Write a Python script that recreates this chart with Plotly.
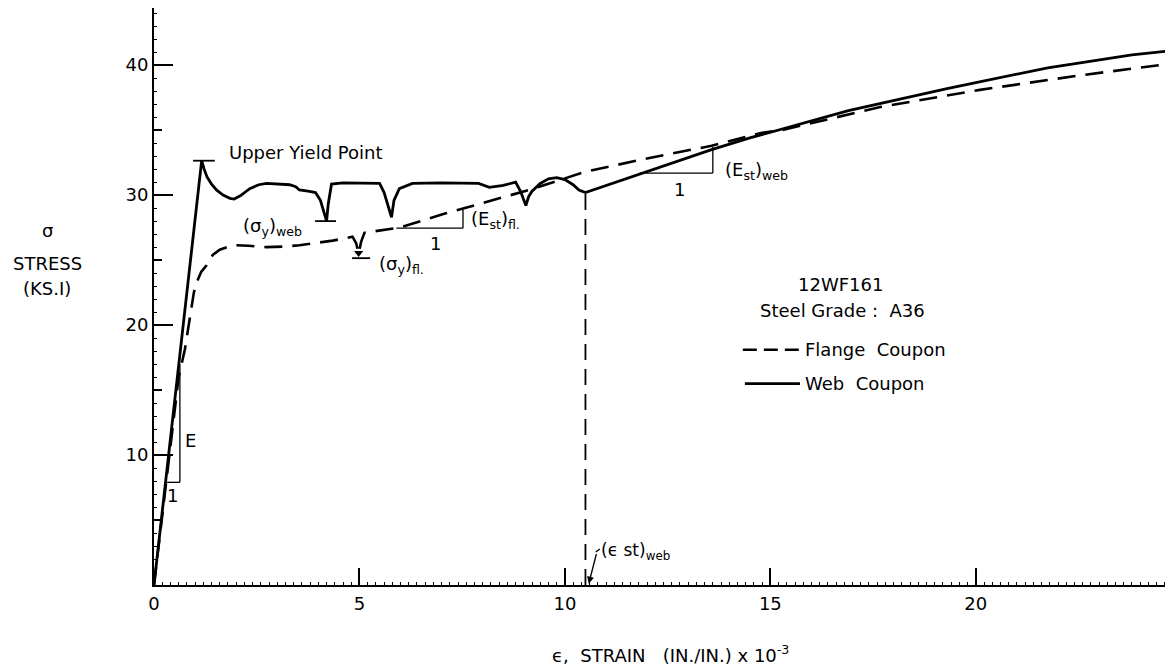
import plotly.graph_objects as go

# ---------------- data (strain x10^-3, stress ksi) ----------------
web_strain = [0, 1.16, 1.22, 1.29, 1.40, 1.52, 1.68, 1.85, 1.95, 2.10, 2.33, 2.55, 2.74, 3.00,
              3.30, 3.45, 3.54, 3.75, 3.93, 4.05, 4.20, 4.24, 4.28, 4.32, 4.60, 5.00, 5.49,
              5.60, 5.78, 5.84, 5.97, 6.29, 7.00, 7.90, 8.16, 8.50, 8.80, 8.92, 9.05, 9.12,
              9.20, 9.40, 9.60, 9.80, 10.00, 10.20, 10.34, 10.50, 11.80, 13.57, 14.50, 15.00,
              16.90, 19.30, 21.75, 23.80, 24.70]
web_stress = [0, 32.65, 32.0, 31.4, 30.85, 30.4, 30.0, 29.75, 29.7, 29.95, 30.5, 30.8, 30.9, 30.85,
              30.8, 30.65, 30.4, 30.3, 30.2, 29.6, 28.0, 29.3, 30.3, 30.85, 30.95, 30.95, 30.9,
              30.2, 28.3, 29.6, 30.5, 30.9, 30.95, 30.9, 30.6, 30.75, 31.0, 30.3, 29.2, 29.9,
              30.3, 30.9, 31.25, 31.35, 31.2, 30.8, 30.4, 30.2, 31.6, 33.5, 34.4, 34.85,
              36.5, 38.2, 39.8, 40.8, 41.1]

flange_strain = [0, 0.60, 0.75, 0.87, 0.97, 1.04, 1.15, 1.28, 1.43, 1.60, 1.92, 2.30, 2.74, 3.20,
                 3.54, 4.00, 4.35, 4.83, 4.92, 4.98, 5.04, 5.12, 5.50, 5.97, 7.10, 9.13, 10.50,
                 11.96, 13.57, 14.80, 15.27, 17.70, 20.10, 22.50, 24.70]
flange_stress = [0, 16.0, 18.1, 20.6, 22.5, 23.3, 24.1, 24.6, 25.4, 25.8, 26.15, 26.1, 26.0, 26.05,
                 26.15, 26.35, 26.5, 26.8, 26.3, 25.5, 26.4, 27.1, 27.3, 27.5, 28.6, 30.4, 31.8,
                 32.8, 33.8, 34.8, 35.0, 36.8, 38.1, 39.2, 40.1]

x_tick_vals = [0, 5, 10, 15, 20]
y_tick_vals = [10, 20, 30, 40]
y_mid_tick_vals = [5, 15, 25, 35]

upper_yield = [1.16, 32.65]      # strain, stress
yield_web = [4.20, 28.0]
yield_fl = [5.0, 25.15]
eps_st_web = [10.5, 30.2]        # strain at onset of strain hardening, stress there

slope_E = [0.32, 7.9, 0.63, 17.0]          # x0, y0, x1, y1
slope_est_fl = [5.9, 27.46, 7.52, 28.9]
slope_est_web = [11.82, 31.7, 13.6, 33.7]

# ---------------- figure ----------------
FONT = "DejaVu Sans"
BLACK = "#000000"

fig = go.Figure()

fig.add_trace(go.Scatter(x=flange_strain, y=flange_stress, mode="lines",
                         line=dict(color=BLACK, width=2.6, dash="18px,10px"),
                         showlegend=False, hoverinfo="skip"))
fig.add_trace(go.Scatter(x=web_strain, y=web_stress, mode="lines",
                         line=dict(color=BLACK, width=2.8),
                         showlegend=False, hoverinfo="skip"))
# small arrow head for flange yield
fig.add_trace(go.Scatter(x=[yield_fl[0] - 0.02], y=[yield_fl[1] + 0.4], mode="markers",
                         marker=dict(symbol="triangle-down", size=8, color=BLACK),
                         showlegend=False, hoverinfo="skip"))
# helper for the secondary tick axis
fig.add_trace(go.Scatter(x=[0], y=[0], yaxis="y2", mode="markers",
                         marker=dict(opacity=0), showlegend=False, hoverinfo="skip"))

shapes = []
def seg(x0, y0, x1, y1, w=1.6, dash="solid", xref="x", yref="y"):
    shapes.append(dict(type="line", x0=x0, y0=y0, x1=x1, y1=y1, xref=xref, yref=yref,
                       line=dict(color=BLACK, width=w, dash=dash)))

# yield bars
seg(upper_yield[0] - 0.21, upper_yield[1], upper_yield[0] + 0.32, upper_yield[1], w=1.8)
seg(yield_web[0] - 0.28, yield_web[1], yield_web[0] + 0.23, yield_web[1], w=1.8)
seg(yield_fl[0] - 0.18, yield_fl[1], yield_fl[0] + 0.26, yield_fl[1], w=1.8)

# slope triangles
for s in (slope_E, slope_est_fl, slope_est_web):
    seg(s[0], s[1], s[2], s[1], w=1.3)
    seg(s[2], s[1], s[2], s[3], w=1.3)

# strain-hardening onset
seg(eps_st_web[0], 0, eps_st_web[0], eps_st_web[1], w=1.8, dash="16px,9px")
seg(10.75, 2.54, 10.85, 2.77, w=1.3)

# legend samples
seg(14.33, 18.1, 15.72, 18.1, w=2.6, dash="14px,7px")
seg(14.38, 15.5, 15.72, 15.5, w=2.8)

ann = []
def txt(x, y, t, xanchor="left", size=18, xref="x", yref="y"):
    ann.append(dict(x=x, y=y, xref=xref, yref=yref, text=t, showarrow=False,
                    xanchor=xanchor, yanchor="middle",
                    font=dict(family=FONT, size=size, color=BLACK)))

txt(1.78, 33.3, "Upper Yield Point")
txt(2.12, 27.55, "(σ<sub>y</sub>)<sub>web</sub>")
txt(5.43, 24.65, "(σ<sub>y</sub>)<sub>fl.</sub>")
txt(7.66, 28.05, "(E<sub>st</sub>)<sub>fl.</sub>")
txt(13.84, 31.85, "(E<sub>st</sub>)<sub>web</sub>")
txt(0.88, 11.15, "E", xanchor="center")
txt(0.46, 6.9, "1", xanchor="center")
txt(6.84, 26.3, "1", xanchor="center")
txt(12.8, 30.4, "1", xanchor="center")
txt(10.83, 2.55, "(ϵ st)<sub>web</sub>", size=17)
txt(16.7, 23.1, "12WF161", xanchor="center")
txt(16.76, 21.15, "Steel Grade :  A36", xanchor="center")
txt(15.8, 18.1, "Flange  Coupon")
txt(15.8, 15.5, "Web  Coupon")

# y-axis title
txt(-0.105, 27.3, "σ", xanchor="center", xref="paper")
txt(-0.105, 24.75, "STRESS", xanchor="center", xref="paper")
txt(-0.105, 22.8, "(KS.I)", xanchor="center", xref="paper")
# x-axis title
ann.append(dict(x=0.508, y=-0.119, xref="paper", yref="paper", showarrow=False,
                text="ϵ,  STRAIN   (IN./IN.) x 10<sup>-3</sup>", xanchor="center", yanchor="middle",
                font=dict(family=FONT, size=18, color=BLACK)))

# arrow to strain-hardening onset
ann.append(dict(x=10.58, y=0.1, xref="x", yref="y", text="", showarrow=True,
                ax=8, ay=-31, arrowhead=2, arrowsize=1, arrowwidth=1.4, arrowcolor=BLACK))

# the page has an 8px body margin, so the figure is sized to fit the window
fig.update_layout(
    width=1165, height=658,
    margin=dict(l=146, r=2, t=0, b=81),
    paper_bgcolor="white", plot_bgcolor="white",
    shapes=shapes, annotations=ann,
    showlegend=False,
    xaxis=dict(range=[0, 24.75], showgrid=False, zeroline=False,
               showline=True, linecolor=BLACK, linewidth=2,
               ticks="inside", tickvals=x_tick_vals, ticklen=17, tickwidth=1.5, tickcolor=BLACK,
               tickfont=dict(family=FONT, size=18, color=BLACK), ticklabelstandoff=1,
               minor=dict(dtick=0.2, ticks="inside", ticklen=3, tickwidth=1, tickcolor=BLACK)),
    yaxis=dict(range=[0, 44.4], showgrid=False, zeroline=False,
               showline=True, linecolor=BLACK, linewidth=2,
               ticks="inside", tickvals=y_tick_vals, ticklen=19, tickwidth=1.5, tickcolor=BLACK,
               tickfont=dict(family=FONT, size=18, color=BLACK), ticklabelstandoff=0,
               minor=dict(dtick=1, ticks="inside", ticklen=3, tickwidth=1, tickcolor=BLACK)),
    yaxis2=dict(range=[0, 44.4], overlaying="y", side="left", anchor="x",
                showgrid=False, zeroline=False, showline=False,
                ticks="inside", tickvals=y_mid_tick_vals, ticklen=8, tickwidth=1.5,
                tickcolor=BLACK, showticklabels=False),
)

fig.write_html("out.html")
